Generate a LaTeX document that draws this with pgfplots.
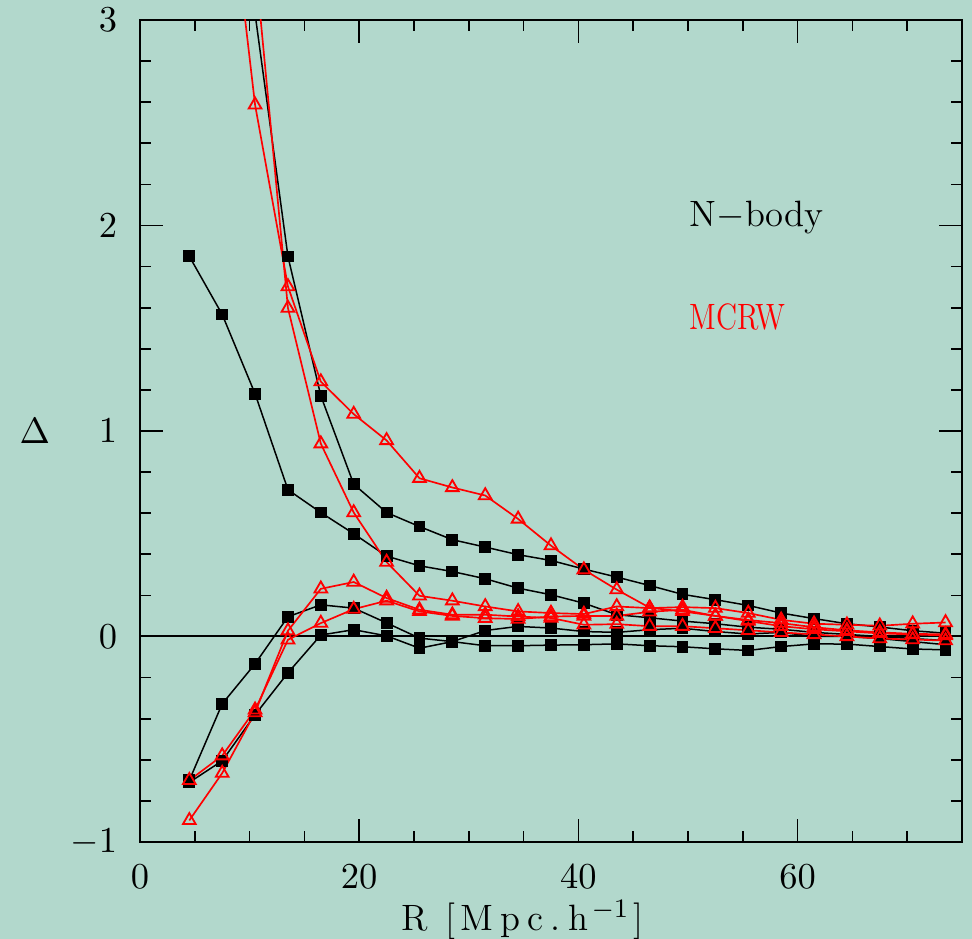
\documentclass[border=0pt]{standalone}
\usepackage{pgfplots}
\pgfplotsset{compat=1.18}
\usepackage{graphicx}
\usetikzlibrary{backgrounds}
\definecolor{bg}{RGB}{178,216,204}
\begin{document}
\fontsize{11}{13}\selectfont
\begin{tikzpicture}
\begin{axis}[name=ax, scale only axis, width=246.6pt, height=246.6pt,
  xmin=0, xmax=75, ymin=-1, ymax=3,
  xtick={0,20,40,60}, minor xtick={5,10,15,25,30,35,45,50,55,65,70},
  ytick={-1,0,1,2,3},
  minor ytick={-0.8,-0.6,-0.4,-0.2,0.2,0.4,0.6,0.8,1.2,1.4,1.6,1.8,2.2,2.4,2.6,2.8},
  tick align=inside, xtick pos=both, ytick pos=both,
  xticklabel pos=lower, yticklabel pos=left,
  major tick length=6.8pt, minor tick length=3.3pt,
  axis line style={line width=0.6pt},
  every tick/.style={black, line width=0.5pt},
  yticklabel style={xshift=-3pt}, xticklabel style={yshift=-3pt},
  xlabel={R\kern0.5em[\kern0.12em M\kern0.2em p\kern0.2em c\kern0.2em .\kern0.2em h\kern0.1em$^{-1}$\kern0.1em]},
  xlabel style={at={(ticklabel cs:0.465)}, anchor=north, yshift=4pt},
  ylabel={$\Delta$},
  ylabel style={rotate=-90, at={(axis description cs:-0.128,0.5)}, anchor=center},
]
% zero line
\addplot[black, line width=0.6pt] coordinates {(0,0) (75,0)};
% N-body (black squares)
\addplot[black, line width=0.45pt, mark=square*, mark size=1.55pt] coordinates {
(4.5,1.85) (7.5,1.567) (10.5,1.181) (13.5,0.714) (16.5,0.603) (19.5,0.50) (22.5,0.391) (25.5,0.344) (28.5,0.316) (31.5,0.281) (34.5,0.235) (37.5,0.203) (40.5,0.162) (43.5,0.106) (46.5,0.091) (49.5,0.075) (52.5,0.062) (55.5,0.045) (58.5,0.035) (61.5,0.02) (64.5,0.01) (67.5,0.0) (70.5,-0.01) (73.5,-0.02)};
\addplot[black, line width=0.45pt, mark=square*, mark size=1.55pt] coordinates {
(4.5,6.0) (7.5,4.2) (10.5,3.03) (13.5,1.849) (16.5,1.171) (19.5,0.741) (22.5,0.603) (25.5,0.535) (28.5,0.471) (31.5,0.435) (34.5,0.398) (37.5,0.37) (40.5,0.328) (43.5,0.289) (46.5,0.248) (49.5,0.205) (52.5,0.179) (55.5,0.151) (58.5,0.114) (61.5,0.087) (64.5,0.062) (67.5,0.046) (70.5,0.028) (73.5,0.016)};
\addplot[black, line width=0.45pt, mark=square*, mark size=1.55pt] coordinates {
(4.5,-0.70) (7.5,-0.328) (10.5,-0.133) (13.5,0.096) (16.5,0.154) (19.5,0.138) (22.5,0.066) (25.5,-0.008) (28.5,-0.025) (31.5,-0.045) (34.5,-0.045) (37.5,-0.042) (40.5,-0.04) (43.5,-0.036) (46.5,-0.045) (49.5,-0.05) (52.5,-0.06) (55.5,-0.068) (58.5,-0.049) (61.5,-0.036) (64.5,-0.037) (67.5,-0.049) (70.5,-0.061) (73.5,-0.065)};
\addplot[black, line width=0.45pt, mark=square*, mark size=1.55pt] coordinates {
(4.5,-0.71) (7.5,-0.605) (10.5,-0.381) (13.5,-0.177) (16.5,0.007) (19.5,0.033) (22.5,0.003) (25.5,-0.057) (28.5,-0.025) (31.5,0.029) (34.5,0.049) (37.5,0.041) (40.5,0.024) (43.5,0.02) (46.5,0.033) (49.5,0.04) (52.5,0.024) (55.5,0.012) (58.5,0.02) (61.5,0.0) (64.5,0.0) (67.5,-0.01) (70.5,-0.025) (73.5,-0.04)};
% MCRW (red triangles)
\addplot[red, line width=0.5pt, mark=triangle, mark size=2.2pt, mark options={line width=0.55pt}] coordinates {
(4.5,5.5) (7.5,3.96) (10.5,2.587) (13.5,1.703) (16.5,1.24) (19.5,1.082) (22.5,0.954) (25.5,0.77) (28.5,0.725) (31.5,0.686) (34.5,0.572) (37.5,0.442) (40.5,0.325) (43.5,0.228) (46.5,0.14) (49.5,0.122) (52.5,0.10) (55.5,0.075) (58.5,0.05) (61.5,0.035) (64.5,0.025) (67.5,0.015) (70.5,0.01) (73.5,0.005)};
\addplot[red, line width=0.5pt, mark=triangle, mark size=2.2pt, mark options={line width=0.55pt}] coordinates {
(4.5,7.0) (7.5,5.0) (10.5,3.29) (13.5,1.598) (16.5,0.938) (19.5,0.603) (22.5,0.362) (25.5,0.198) (28.5,0.174) (31.5,0.146) (34.5,0.122) (37.5,0.114) (40.5,0.109) (43.5,0.146) (46.5,0.138) (49.5,0.143) (52.5,0.138) (55.5,0.114) (58.5,0.081) (61.5,0.062) (64.5,0.057) (67.5,0.052) (70.5,0.062) (73.5,0.068)};
\addplot[red, line width=0.5pt, mark=triangle, mark size=2.2pt, mark options={line width=0.55pt}] coordinates {
(4.5,-0.895) (7.5,-0.665) (10.5,-0.37) (13.5,0.028) (16.5,0.232) (19.5,0.265) (22.5,0.187) (25.5,0.13) (28.5,0.106) (31.5,0.106) (34.5,0.097) (37.5,0.09) (40.5,0.057) (43.5,0.06) (46.5,0.05) (49.5,0.05) (52.5,0.04) (55.5,0.03) (58.5,0.02) (61.5,0.01) (64.5,0.0) (67.5,-0.01) (70.5,-0.015) (73.5,-0.02)};
\addplot[red, line width=0.5pt, mark=triangle, mark size=2.2pt, mark options={line width=0.55pt}] coordinates {
(4.5,-0.70) (7.5,-0.58) (10.5,-0.357) (13.5,-0.016) (16.5,0.065) (19.5,0.133) (22.5,0.174) (25.5,0.122) (28.5,0.10) (31.5,0.089) (34.5,0.085) (37.5,0.097) (40.5,0.10) (43.5,0.10) (46.5,0.12) (49.5,0.13) (52.5,0.10) (55.5,0.08) (58.5,0.065) (61.5,0.045) (64.5,0.03) (67.5,0.02) (70.5,0.013) (73.5,0.01)};
\node[anchor=base west, inner sep=0pt] at (axis cs:50.1,1.994) {N$-$body};
\node[anchor=base west, inner sep=0pt, text=red] at (axis cs:50.1,1.492) {\scalebox{0.81}[1]{MCRW}};
\end{axis}
\pgfresetboundingbox
\path[use as bounding box] ([shift={(-42pt,-29.1pt)}]ax.south west) rectangle ([shift={(3pt,6pt)}]ax.north east);
\begin{scope}[on background layer]
\fill[bg] ([shift={(-42pt,-29.1pt)}]ax.south west) rectangle ([shift={(3pt,6pt)}]ax.north east);
\end{scope}
\end{tikzpicture}
\end{document}
